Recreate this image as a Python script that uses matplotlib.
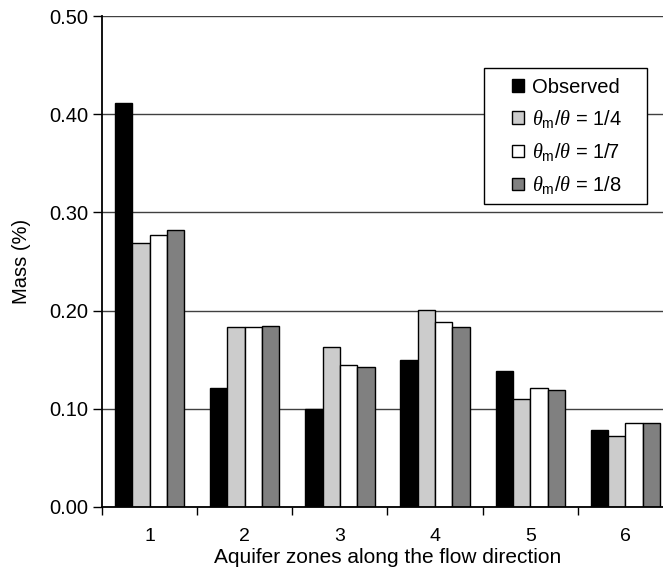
import matplotlib
matplotlib.use("Agg")
import matplotlib.pyplot as plt
from matplotlib.patches import Rectangle
import numpy as np

plt.rcParams["font.family"] = ["Liberation Sans", "DejaVu Sans"]
plt.rcParams["mathtext.fontset"] = "custom"
plt.rcParams["mathtext.rm"] = "Liberation Sans"
plt.rcParams["mathtext.it"] = "Liberation Serif:italic"

zones = ["1", "2", "3", "4", "5", "6"]
observed = [0.411, 0.121, 0.100, 0.150, 0.139, 0.078]
ratio_1_4 = [0.269, 0.183, 0.163, 0.201, 0.110, 0.072]
ratio_1_7 = [0.277, 0.183, 0.145, 0.188, 0.121, 0.086]
ratio_1_8 = [0.282, 0.184, 0.143, 0.183, 0.119, 0.086]

series = [
    ("Observed", observed, "#000000"),
    (r"$\theta_{\rm m}/\theta$ = 1/4", ratio_1_4, "#cccccc"),
    (r"$\theta_{\rm m}/\theta$ = 1/7", ratio_1_7, "#ffffff"),
    (r"$\theta_{\rm m}/\theta$ = 1/8", ratio_1_8, "#808080"),
]

fig = plt.figure(figsize=(6.63, 5.68), dpi=100)
ax = fig.add_axes([102 / 663, 61 / 568, 571 / 663, 491 / 568])

x = np.arange(len(zones))
width = 0.182
for i, (label, vals, color) in enumerate(series):
    ax.bar(x + (i - 1.5) * width, vals, width, color=color,
           edgecolor="black", linewidth=1.0, label=label, zorder=3)

ax.set_xlim(-0.5, len(zones) - 0.5)
ax.set_ylim(0, 0.5)
ax.set_yticks(np.arange(0, 0.51, 0.1))
ax.set_yticklabels([f"{v:.2f}" for v in np.arange(0, 0.51, 0.1)])
ax.set_xticks(x)
ax.set_xticklabels(zones)
ax.set_xticks(np.arange(-0.5, len(zones), 1.0), minor=True)
ax.tick_params(axis="x", which="major", length=0, pad=15, labelsize=14)
ax.tick_params(axis="x", which="minor", length=6, width=1, direction="out")
ax.tick_params(axis="y", length=6.5, width=1, direction="out", labelsize=14.5, pad=3.5)

ax.yaxis.grid(True, color="#404040", linewidth=1.0, zorder=0)
ax.set_axisbelow(True)
for s in ["top", "right"]:
    ax.spines[s].set_visible(False)
for s in ["left", "bottom"]:
    ax.spines[s].set_linewidth(1.3)
ax.spines["left"].set_zorder(4)
ax.spines["bottom"].set_zorder(4)

ax.set_xlabel("Aquifer zones along the flow direction", fontsize=15, labelpad=2)
ax.set_ylabel("Mass (%)", fontsize=14.5, labelpad=13)

# legend box with wide side margins
box = Rectangle((0.669, 0.617), 0.2855, 0.277, transform=ax.transAxes,
                facecolor="white", edgecolor="black", linewidth=1.0, zorder=5)
ax.add_patch(box)
leg = ax.legend(loc="upper left", bbox_to_anchor=(0.718, 0.874), fontsize=14.5,
                frameon=False, handlelength=0.6, handleheight=0.6,
                handletextpad=0.4, labelspacing=0.55, borderpad=0,
                borderaxespad=0)
leg.set_zorder(6)

fig.savefig("out.png", dpi=100)
